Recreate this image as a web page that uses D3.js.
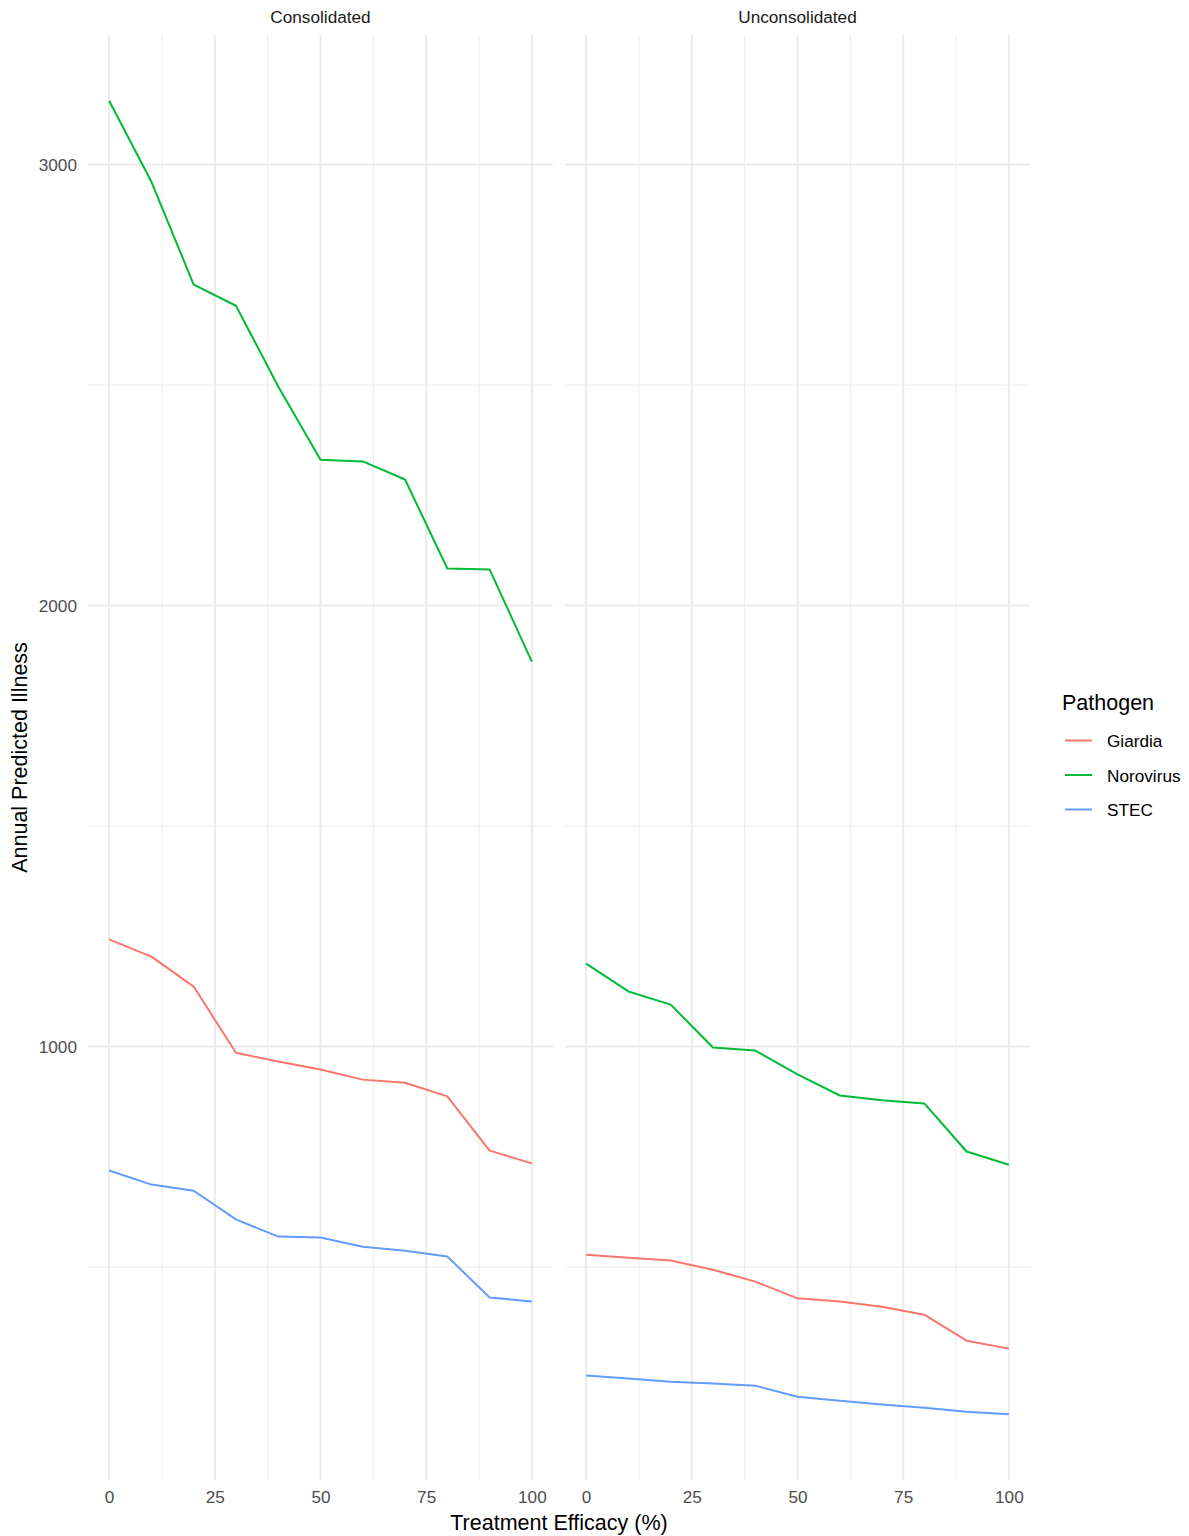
<!DOCTYPE html>
<html>
<head>
<meta charset="utf-8">
<script src="https://cdn.jsdelivr.net/npm/d3@7"></script>
<style>
  body { margin: 0; background: #fff; }
  svg { display: block; font-family: "Liberation Sans", Arial, Helvetica, sans-serif; }
</style>
</head>
<body>
<svg id="chart" width="1189" height="1536"></svg>
<script>
// Treatment efficacy levels (%)
const efficacy = [0, 10, 20, 30, 40, 50, 60, 70, 80, 90, 100];
const facets = ["Consolidated", "Unconsolidated"];
const pathogens = ["Giardia", "Norovirus", "STEC"];
const colors = ["#F8766D", "#00BA38", "#619CFF"];

// Annual predicted illness per pathogen, consolidated systems
const consolidatedGiardia   = [1243, 1204, 1136, 986, 966, 948, 925, 918, 887, 764, 735];
const consolidatedNorovirus = [3145, 2961, 2728, 2680, 2497, 2331, 2327, 2286, 2084, 2082, 1873];
const consolidatedSTEC      = [719, 687, 673, 608, 569, 567, 546, 537, 524, 431, 422];

// Annual predicted illness per pathogen, unconsolidated systems
const unconsolidatedGiardia   = [528, 521, 515, 494, 467, 429, 422, 410, 392, 333, 315];
const unconsolidatedNorovirus = [1188, 1125, 1095, 998, 991, 937, 889, 878, 871, 762, 732];
const unconsolidatedSTEC      = [254, 247, 240, 236, 231, 206, 197, 188, 181, 172, 166];

const xTicks = [0, 25, 50, 75, 100];
const xMinor = [12.5, 37.5, 62.5, 87.5];
const yTicks = [1000, 2000, 3000];
const yMinor = [500, 1500, 2500];

const seriesByFacet = {
  Consolidated: [consolidatedGiardia, consolidatedNorovirus, consolidatedSTEC],
  Unconsolidated: [unconsolidatedGiardia, unconsolidatedNorovirus, unconsolidatedSTEC]
};

const svg = d3.select("#chart");

const panelTop = 35, panelBottom = 1480;
const panels = [
  { name: facets[0], x0: 88, x1: 553 },
  { name: facets[1], x0: 565, x1: 1030 }
];

const tickSize = 17.2, titleSize = 21.5;

// y domain with ggplot-style 5% expansion
const allVals = Object.values(seriesByFacet).flat(2);
const yMinV = d3.min(allVals), yMaxV = d3.max(allVals);
const yPad = (yMaxV - yMinV) * 0.05;
const y = d3.scaleLinear().domain([yMinV - yPad, yMaxV + yPad]).range([panelBottom, panelTop]);

const xPad = (d3.max(efficacy) - d3.min(efficacy)) * 0.05;

const grid = "#EBEBEB";

panels.forEach((p, pi) => {
  const x = d3.scaleLinear()
    .domain([d3.min(efficacy) - xPad, d3.max(efficacy) + xPad])
    .range([p.x0, p.x1]);
  const g = svg.append("g");

  // minor grid
  g.selectAll(".ymin").data(yMinor).join("line")
    .attr("x1", p.x0).attr("x2", p.x1)
    .attr("y1", d => y(d)).attr("y2", d => y(d))
    .attr("stroke", grid).attr("stroke-width", 1);
  g.selectAll(".xmin").data(xMinor).join("line")
    .attr("x1", d => x(d)).attr("x2", d => x(d))
    .attr("y1", panelTop).attr("y2", panelBottom)
    .attr("stroke", grid).attr("stroke-width", 1);
  // major grid
  g.selectAll(".ymaj").data(yTicks).join("line")
    .attr("x1", p.x0).attr("x2", p.x1)
    .attr("y1", d => y(d)).attr("y2", d => y(d))
    .attr("stroke", grid).attr("stroke-width", 2);
  g.selectAll(".xmaj").data(xTicks).join("line")
    .attr("x1", d => x(d)).attr("x2", d => x(d))
    .attr("y1", panelTop).attr("y2", panelBottom)
    .attr("stroke", grid).attr("stroke-width", 2);

  // strip label
  svg.append("text")
    .attr("x", (p.x0 + p.x1) / 2).attr("y", 23)
    .attr("text-anchor", "middle")
    .attr("font-size", tickSize).attr("fill", "#1A1A1A")
    .text(p.name);

  // x axis tick labels
  const xAxis = d3.axisBottom(x).tickValues(xTicks).tickSize(0).tickPadding(0);
  const xg = svg.append("g").attr("transform", `translate(0,${panelBottom})`).call(xAxis);
  xg.select(".domain").remove();
  xg.selectAll("text")
    .attr("y", 11).attr("dy", "0.71em")
    .attr("font-size", tickSize).attr("fill", "#4D4D4D")
    .attr("font-family", "Liberation Sans, Arial, sans-serif");

  // y axis tick labels (left panel only)
  if (pi === 0) {
    const yAxis = d3.axisLeft(y).tickValues(yTicks).tickSize(0).tickPadding(0).tickFormat(d3.format("d"));
    const yg = svg.append("g").attr("transform", `translate(${p.x0 - 11},0)`).call(yAxis);
    yg.select(".domain").remove();
    yg.selectAll("text")
      .attr("font-size", tickSize).attr("fill", "#4D4D4D")
      .attr("font-family", "Liberation Sans, Arial, sans-serif");
  }

  // series lines
  const line = d3.line().x((d, i) => x(efficacy[i])).y(d => y(d));
  seriesByFacet[p.name].forEach((vals, si) => {
    svg.append("path")
      .datum(vals)
      .attr("d", line)
      .attr("fill", "none")
      .attr("stroke", colors[si])
      .attr("stroke-width", 2)
      .attr("stroke-linejoin", "round");
  });
});

// axis titles
svg.append("text")
  .attr("x", (panels[0].x0 + panels[1].x1) / 2).attr("y", 1530)
  .attr("text-anchor", "middle")
  .attr("font-size", titleSize).attr("fill", "#000")
  .text("Treatment Efficacy (%)");

svg.append("text")
  .attr("transform", `translate(27,${(panelTop + panelBottom) / 2}) rotate(-90)`)
  .attr("text-anchor", "middle")
  .attr("font-size", titleSize).attr("fill", "#000")
  .text("Annual Predicted Illness");

// legend
const legend = svg.append("g").attr("transform", "translate(1062,0)");
legend.append("text")
  .attr("x", 0).attr("y", 710)
  .attr("font-size", titleSize).attr("fill", "#000")
  .text("Pathogen");
pathogens.forEach((name, i) => {
  const cy = 740.5 + i * 34.5;
  legend.append("line")
    .attr("x1", 3).attr("x2", 30)
    .attr("y1", cy).attr("y2", cy)
    .attr("stroke", colors[i]).attr("stroke-width", 2);
  legend.append("text")
    .attr("x", 45).attr("y", cy + 6.5)
    .attr("font-size", tickSize).attr("fill", "#000")
    .text(name);
});
</script>
</body>
</html>
